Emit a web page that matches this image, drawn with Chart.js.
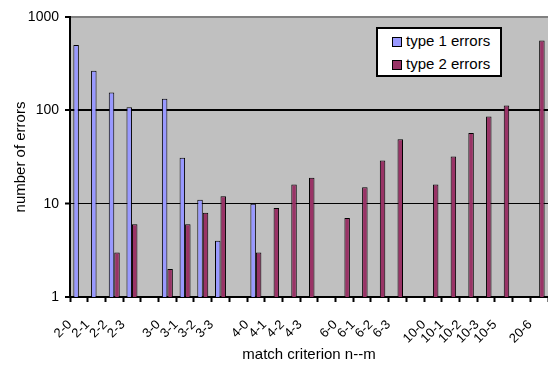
<!DOCTYPE html>
<html>
<head>
<meta charset="utf-8">
<script src="https://cdn.jsdelivr.net/npm/chart.js@4/dist/chart.umd.min.js"></script>
<style>
  body { margin: 0; background: #fff; }
  #wrap { position: relative; width: 548px; height: 366px; }
  #legend {
    position: absolute; left: 376px; top: 27px; width: 126px; height: 50px;
    box-sizing: border-box; border: 2px solid #000; background: #fff;
    font-family: "Liberation Sans", Arial, sans-serif; font-size: 15px; color: #000;
  }
  .item { position: absolute; left: 14px; height: 16px; line-height: 16px; white-space: nowrap; }
  .swatch { display: inline-block; width: 8px; height: 8px; border: 1px solid #000; margin-right: 4px; vertical-align: -1px; }
</style>
</head>
<body>
<div id="wrap">
  <canvas id="errChart" width="548" height="366"></canvas>
  <div id="legend"></div>
</div>
<script>
const categories = ["2-0", "2-1", "2-2", "2-3", "", "3-0", "3-1", "3-2", "3-3", "",
  "4-0", "4-1", "4-2", "4-3", "", "6-0", "6-1", "6-2", "6-3", "",
  "10-0", "10-1", "10-2", "10-3", "10-5", "", "20-6"];
const type1Errors = [500, 265, 155, 108, null, 133, 31, 11, 4, null,
  10, null, null, null, null, null, null, null, null, null,
  null, null, null, null, null, null, null];
const type2Errors = [null, null, 3, 6, null, 2, 6, 8, 12, null,
  3, 9, 16, 19, null, 7, 15, 29, 49, null,
  16, 32, 57, 86, 113, null, 560];
const yTicks = [1, 10, 100, 1000];

const fontFamily = "'Liberation Sans', Arial, sans-serif";

const plotBg = {
  id: "plotBg",
  beforeDraw(chart) {
    const a = chart.chartArea;
    const ctx = chart.ctx;
    ctx.save();
    ctx.fillStyle = "#c0c0c0";
    ctx.fillRect(a.left, a.top, a.right - a.left, a.bottom - a.top);
    ctx.restore();
  },
};

const chart = new Chart(document.getElementById("errChart"), {
  type: "bar",
  data: {
    labels: categories,
    datasets: [
      {
        label: "type 1 errors",
        data: type1Errors,
        backgroundColor: "#9999ff",
        borderColor: "#000",
        borderWidth: 1,
      },
      {
        label: "type 2 errors",
        data: type2Errors,
        backgroundColor: "#993366",
        borderColor: "#000",
        borderWidth: 1,
      },
    ],
  },
  options: {
    responsive: false,
    animation: false,
    layout: { padding: { top: 17, left: 0, right: 0, bottom: 0 } },
    datasets: { bar: { categoryPercentage: 0.62, barPercentage: 1.0 } },
    plugins: {
      legend: { display: false },
      tooltip: { enabled: false },
    },
    scales: {
      x: {
        afterFit: (s) => {
          s.height = 69;
          s.paddingLeft = 0;
          s.paddingRight = 0;
        },
        grid: {
          drawOnChartArea: false,
          drawTicks: true,
          tickLength: 5,
          tickColor: "#000",
          tickWidth: 2,
          offset: true,
        },
        border: { color: "#000", width: 2 },
        ticks: {
          autoSkip: false,
          maxRotation: 45,
          minRotation: 45,
          padding: 15,
          labelOffset: -9,
          color: "#000",
          font: { family: fontFamily, size: 13 },
        },
        title: {
          display: true,
          text: "match criterion n--m",
          color: "#000",
          font: { family: fontFamily, size: 15 },
          padding: { top: 0, bottom: 2 },
        },
      },
      y: {
        type: "logarithmic",
        min: 1,
        max: 1000,
        afterFit: (s) => { s.width = 70; },
        afterBuildTicks: (s) => { s.ticks = yTicks.map((v) => ({ value: v })); },
        grid: {
          color: (c) => (c.tick && c.tick.value === 1000 ? "#808080" : "#000"),
          lineWidth: (c) => {
            const v = c.tick ? c.tick.value : 0;
            if (v === 1000 || v === 100) return 2;
            if (v === 10) return 1;
            return 0;
          },
          tickLength: 5,
          tickColor: "#000",
          tickWidth: 2,
        },
        border: { color: "#000", width: 2 },
        ticks: {
          padding: 6,
          color: "#000",
          font: { family: fontFamily, size: 14 },
          callback: (v) => String(v),
        },
        title: {
          display: true,
          text: "number of errors",
          color: "#000",
          font: { family: fontFamily, size: 15 },
          padding: { top: 12, bottom: 0 },
        },
      },
    },
  },
  plugins: [plotBg],
});

// legend box built from the datasets
const legendEl = document.getElementById("legend");
chart.data.datasets.forEach((ds, i) => {
  const item = document.createElement("div");
  item.className = "item";
  item.style.top = (4 + i * 23) + "px";
  const sw = document.createElement("span");
  sw.className = "swatch";
  sw.style.background = ds.backgroundColor;
  item.appendChild(sw);
  item.appendChild(document.createTextNode(ds.label));
  legendEl.appendChild(item);
});
</script>
</body>
</html>
